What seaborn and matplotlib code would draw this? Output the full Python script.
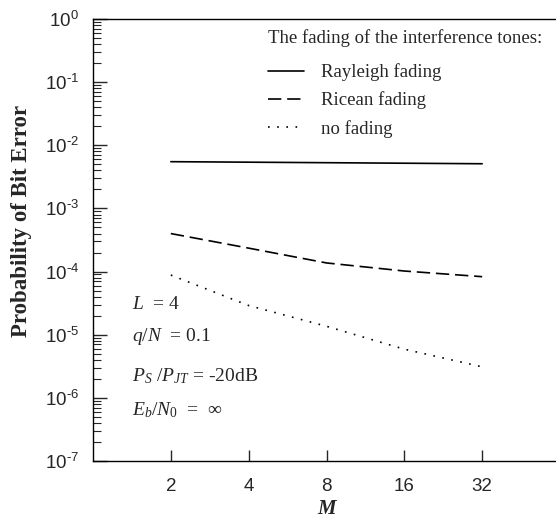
import numpy as np
import pandas as pd
import matplotlib
matplotlib.use('Agg')
import matplotlib.pyplot as plt
import matplotlib.ticker as mticker
import seaborn as sns

# values
M = [2, 4, 8, 16, 32]
rayleigh = [5.5e-3, 5.4e-3, 5.3e-3, 5.2e-3, 5.1e-3]
ricean = [4.0e-4, 2.35e-4, 1.37e-4, 1.02e-4, 8.3e-5]
no_fading = [8.8e-5, 2.9e-5, 1.36e-5, 5.9e-6, 3.1e-6]
labels = ['Rayleigh fading', 'Ricean fading', 'no fading']
x_ticks = [2, 4, 8, 16, 32]
y_exps = [0, -1, -2, -3, -4, -5, -6, -7]


def main():
    sns.set_style('white')
    plt.rcParams['font.family'] = ['Liberation Serif', 'DejaVu Serif']
    plt.rcParams['mathtext.fontset'] = 'custom'
    plt.rcParams['mathtext.rm'] = 'Liberation Serif'
    plt.rcParams['mathtext.it'] = 'Liberation Serif:italic'
    plt.rcParams['mathtext.bf'] = 'Liberation Serif:bold'

    df = pd.DataFrame({
        'M': M * 3,
        'Pb': rayleigh + ricean + no_fading,
        'fading': [labels[0]] * 5 + [labels[1]] * 5 + [labels[2]] * 5,
    })

    fig = plt.figure(figsize=(5.56, 5.18), dpi=100)
    ax = fig.add_axes([93 / 556, 57 / 518, 467 / 556, 442 / 518])

    sns.lineplot(data=df, x='M', y='Pb', style='fading', color='black',
                 dashes={labels[0]: '', labels[1]: (8, 3.5), labels[2]: (1, 4.5)},
                 linewidth=1.2, ax=ax, legend=True)

    ax.set_xscale('log', base=2)
    ax.set_yscale('log')
    ax.set_xlim(1, 64)
    ax.set_ylim(1e-7, 1)

    ax.set_xticks(x_ticks)
    ax.set_xticklabels([str(v) for v in x_ticks], family='Liberation Sans', fontsize=13.5)
    ax.xaxis.set_minor_locator(mticker.NullLocator())
    ax.set_yticks([10.0 ** e for e in y_exps])
    ylabs = []
    for e in y_exps:
        if e == 0:
            ylabs.append(r'$\mathregular{10^{0}}$')
        else:
            ylabs.append(r'$\mathregular{10^{\text{-}%d}}$' % (-e))
    ax.set_yticklabels(ylabs, family='Liberation Sans', fontsize=13.5)
    ax.yaxis.set_minor_locator(mticker.LogLocator(base=10, subs=np.arange(2, 10), numticks=20))
    ax.yaxis.set_minor_formatter(mticker.NullFormatter())

    ax.tick_params(axis='y', which='major', direction='in', length=10, width=1, left=True, pad=10)
    ax.tick_params(axis='y', which='minor', direction='in', length=6, width=0.8, left=True)
    ax.tick_params(axis='x', which='major', direction='in', length=8, width=1, bottom=True, pad=12)

    for side in ['left', 'bottom', 'top']:
        ax.spines[side].set_color('black')
        ax.spines[side].set_linewidth(1.0)
    ax.spines['right'].set_visible(False)

    ax.set_xlabel('M', fontsize=15, fontweight='bold', fontstyle='italic', labelpad=3)
    ax.set_ylabel('Probability of Bit Error', fontsize=16.5, fontweight='bold')
    ax.yaxis.set_label_coords(-0.13, 0.542)

    leg = ax.legend(title='The fading of the interference tones:', loc='upper left',
                    bbox_to_anchor=(0.375, 0.978), frameon=False, fontsize=13.5,
                    title_fontsize=13.5, handlelength=1.9, handletextpad=0.9,
                    labelspacing=0.55, borderaxespad=0, borderpad=0)
    leg._legend_box.align = 'left'
    leg._legend_box.sep = 12

    ax.text(0.083, 0.345, r'$L$  = 4', transform=ax.transAxes, fontsize=14)
    ax.text(0.083, 0.272, r'$q/N$  = 0.1', transform=ax.transAxes, fontsize=14)
    ax.text(0.083, 0.18, r'$P_S$ /$P_{JT}$ = -20dB', transform=ax.transAxes, fontsize=14)
    ax.text(0.083, 0.103, r'$E_b/N_0$  =  $\infty$', transform=ax.transAxes, fontsize=14)

    fig.savefig('out.png', dpi=100)
    plt.close(fig)


if __name__ == '__main__':
    main()
